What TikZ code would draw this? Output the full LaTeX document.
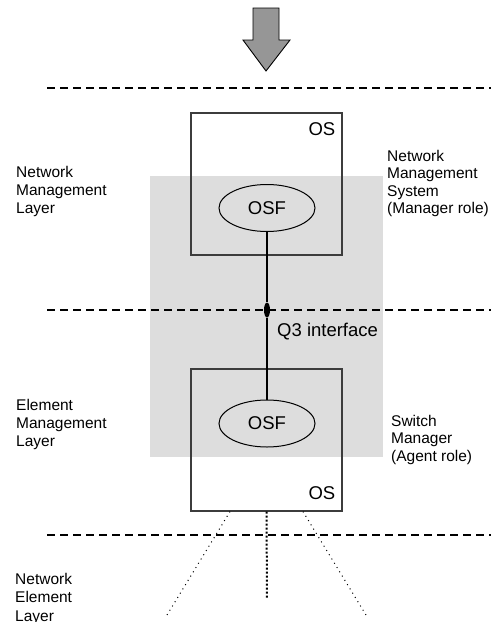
\documentclass[tikz,border=0pt]{standalone}
\usepackage{fontspec}
\setmainfont{Liberation Sans}
\usetikzlibrary{shapes.geometric}
\definecolor{zoneGray}{RGB}{221,221,221}
\definecolor{arrowGray}{RGB}{150,150,150}
\definecolor{boxLine}{RGB}{60,60,60}
\tikzset{
  layerline/.style={line width=1.7pt, dash pattern=on 8pt off 5pt},
  osbox/.style={draw=boxLine, line width=1.2pt, rectangle, minimum width=151pt, minimum height=142pt, inner sep=0pt},
  osf/.style={draw=black, line width=1pt, ellipse, minimum width=96pt, minimum height=47pt, inner sep=0pt, font=\fontsize{18.5}{20}\selectfont},
  oslabel/.style={inner sep=0pt, anchor=north east, font=\fontsize{18.5}{20}\selectfont},
  sidelabel/.style={inner sep=0pt, anchor=north west, align=left, font=\fontsize{15.5}{18}\selectfont},
  link/.style={line width=2.6pt},
  joint/.style={ellipse, fill=black, minimum width=6pt, minimum height=15pt, inner sep=0pt},
  fanout/.style={line width=1pt, dash pattern=on 1pt off 4pt},
  fancenter/.style={line width=2pt, dash pattern=on 2pt off 2pt},
}
\begin{document}
\begin{tikzpicture}[x=1pt, y=-1pt]
\useasboundingbox (0,0) rectangle (491,622);

% shaded Q3 zone
\fill[zoneGray] (150,176) rectangle (383,457);

% layer boundaries
\draw[layerline] (47,88) -- (491,88);
\draw[layerline] (47,310) -- (491,310);
\draw[layerline] (47,535) -- (491,535);

% incoming arrow
\draw[fill=arrowGray, line width=0.9pt, line join=miter]
  (253,8) -- (279,8) -- (279,40) -- (290,40) -- (266,71) -- (243,40) -- (253,40) -- cycle;

% operations systems
\node[osbox] (nms) at (266.5,184) {};
\node[osbox] (sm) at (266.5,440) {};
\node[oslabel] (nmsOS) at (335.5,122) {OS};
\node[oslabel] (smOS) at (335.5,486) {OS};

% OSF blocks and Q3 link
\node[osf] (osfTop) at (267,208) {OSF};
\node[osf] (osfBot) at (267,423.5) {OSF};
\node[joint] (q3) at (267,310) {};
\draw[link] (osfTop) -- (q3) -- (osfBot);
\node[sidelabel, font=\fontsize{18.5}{20}\selectfont] (q3lbl) at (277,323) {Q3 interface};

% links down to network elements
\coordinate (neL) at (167,615);
\coordinate (neC) at (267,598);
\coordinate (neR) at (366,615);
\draw[fanout] ([xshift=-36.5pt]sm.south) -- (neL);
\draw[fancenter] (sm.south) -- (neC);
\draw[fanout] ([xshift=36.5pt]sm.south) -- (neR);

% layer names
\node[sidelabel] (nml) at (16,166) {Network\\Management\\Layer};
\node[sidelabel] (eml) at (16,399) {Element\\Management\\Layer};
\node[sidelabel, font=\fontsize{15.5}{18.5}\selectfont] (nel) at (15,573) {Network\\Element\\Layer};

% role names
\node[sidelabel, font=\fontsize{15.5}{17.5}\selectfont] (nmsRole) at (387,150) {Network\\Management\\System\\(Manager role)};
\node[sidelabel, font=\fontsize{15.5}{17.5}\selectfont] (smRole) at (391,415) {Switch\\Manager\\(Agent role)};
\end{tikzpicture}
\end{document}
